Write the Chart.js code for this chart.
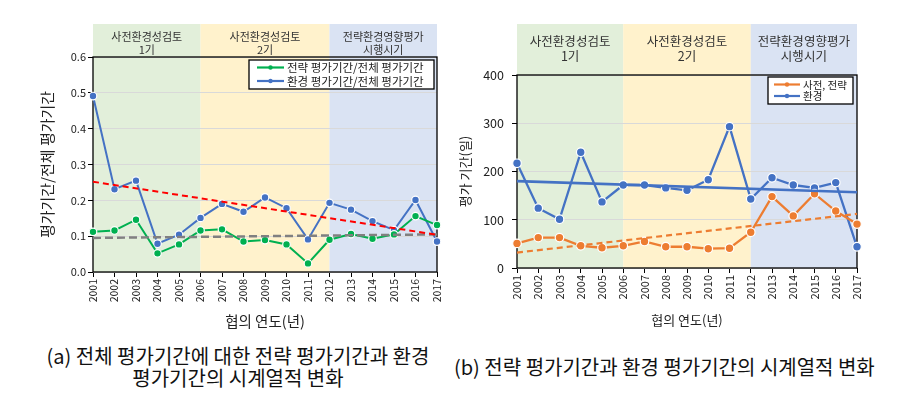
<!DOCTYPE html>
<html><head><meta charset="utf-8">
<script src="https://cdn.jsdelivr.net/npm/chart.js@4/dist/chart.umd.min.js"></script>
<style>
html,body{margin:0;padding:0;background:#fff;width:908px;height:406px;overflow:hidden;}
.wrap{position:absolute;top:0;width:454px;height:340px;}
#wrapA{left:0;}
#wrapB{left:454px;}
.cap{position:absolute;font-family:"Noto Sans CJK KR","Noto Sans",sans-serif;font-size:20px;color:#111;text-align:center;white-space:nowrap;line-height:22px;}
</style></head><body>
<div id="wrapA" class="wrap"><canvas id="cA" width="454" height="340"></canvas></div>
<div id="wrapB" class="wrap"><canvas id="cB" width="454" height="340"></canvas></div>
<div class="cap" style="left:0;width:476px;top:345px;">(a) 전체 평가기간에 대한 전략 평가기간과 환경<br>평가기간의 시계열적 변화</div>
<div class="cap" style="left:454px;width:414px;top:356px;">(b) 전략 평가기간과 환경 평가기간의 시계열적 변화</div>
<script>
// ---------- data ----------
const years = ['2001','2002','2003','2004','2005','2006','2007','2008','2009','2010','2011','2012','2013','2014','2015','2016','2017'];
// (a) ratio of evaluation period
const stratRatio = [0.112,0.116,0.146,0.052,0.077,0.116,0.119,0.085,0.089,0.077,0.024,0.090,0.106,0.093,0.105,0.156,0.131];
const envRatio   = [0.491,0.231,0.255,0.079,0.104,0.151,0.190,0.168,0.208,0.178,0.091,0.193,0.174,0.142,0.117,0.201,0.085];
const envRatioTrend   = [0.252, 0.104];   // values at 2001 and 2017
const stratRatioTrend = [0.095, 0.105];
// (b) evaluation period (days)
const stratDays = [51,63,63,46,42,46,55,44,44,40,41,74,148,108,154,118,91];
const envDays   = [217,124,101,240,137,172,172,166,161,183,293,143,187,172,166,177,44];
const envDaysTrend   = [180, 157];
const stratDaysTrend = [32, 112];
// labels
const seriesA = ['전략 평가기간/전체 평가기간','환경 평가기간/전체 평가기간'];
const seriesB = ['사전, 전략','환경'];
const bandNames = [['사전환경성검토','1기'],['사전환경성검토','2기'],['전략환경영향평가','시행시기']];
const bandRanges = [['2001','2006'],['2006','2012'],['2012','2017']];
const titleAY = '평가기간/전체 평가기간';
const titleBY = '평가 기간(일)';
const titleX = '협의 연도(년)';

const FONT = '"Noto Sans CJK KR","Noto Sans",sans-serif';
const bandColors = ['#e2efda','#fff2cc','#dae3f3'];
const C = {blue:'#4472c4', green:'#00b050', orange:'#ed7d31', red:'#ff0000', gray:'#808080'};

function endpoints(pair){ return years.map((_,i)=> i===0 ? pair[0] : (i===years.length-1 ? pair[1] : null)); }

const bandPlugin = {
  id:'bands',
  beforeDraw(chart, args, opts){
    const {ctx, chartArea:a, scales:{x}} = chart;
    ctx.save();
    bandRanges.forEach((r,i)=>{
      const x0 = x.getPixelForValue(years.indexOf(r[0]));
      const x1 = x.getPixelForValue(years.indexOf(r[1]));
      ctx.fillStyle = bandColors[i];
      ctx.fillRect(x0, opts.top, x1-x0, a.bottom-opts.top);
      ctx.fillStyle = '#333';
      ctx.font = opts.fontSize+'px '+FONT;
      ctx.textAlign='center'; ctx.textBaseline='middle';
      ctx.fillText(bandNames[i][0], (x0+x1)/2, opts.l1);
      ctx.fillText(bandNames[i][1], (x0+x1)/2, opts.l2);
    });
    ctx.restore();
  },
  beforeDatasetsDraw(chart){
    const {ctx, chartArea:a} = chart;
    ctx.save();
    ctx.strokeStyle='#000'; ctx.lineWidth=1.3;
    ctx.strokeRect(a.left, a.top, a.right-a.left, a.bottom-a.top);
    ctx.restore();
  },
  afterDatasetsDraw(chart, args, opts){
    const {ctx} = chart;
    const b = opts.box;
    ctx.save();
    ctx.fillStyle='#fff'; ctx.fillRect(b.x,b.y,b.w,b.h);
    ctx.strokeStyle='#000'; ctx.lineWidth=1.3; ctx.strokeRect(b.x,b.y,b.w,b.h);
    ctx.font = opts.legendFont+'px '+FONT;
    ctx.textBaseline='middle'; ctx.textAlign='left';
    opts.items.forEach((idx,k)=>{
      const ds = chart.data.datasets[idx];
      const y = b.y + opts.rows[k];
      ctx.strokeStyle = ds.borderColor; ctx.lineWidth = 2.2;
      ctx.beginPath(); ctx.moveTo(b.x+opts.sx, y); ctx.lineTo(b.x+opts.sx+opts.sw, y); ctx.stroke();
      ctx.fillStyle = ds.borderColor;
      ctx.beginPath(); ctx.arc(b.x+opts.sx+opts.sw/2, y, 2.2, 0, Math.PI*2); ctx.fill();
      ctx.fillStyle='#222';
      ctx.fillText(ds.label, b.x+opts.sx+opts.sw+3, y+0.5);
    });
    ctx.restore();
  }
};

function lineDs(label, data, color, r, w){
  return {label, data, borderColor:color, backgroundColor:color, borderWidth:w,
    pointRadius:r, pointHoverRadius:r, pointBorderColor:'#fff', pointBorderWidth:1.2,
    pointBackgroundColor:color, tension:0, order:2};
}
function trendDs(data, color, w, dash){
  return {label:'', data, borderColor:color, borderWidth:w, borderDash:dash, pointRadius:0,
    spanGaps:true, tension:0, order:1};
}

// ---------- chart (a) ----------
new Chart(document.getElementById('cA'), {
  type:'line',
  data:{labels:years, datasets:[
    lineDs(seriesA[0], stratRatio, C.green, 3.8, 2),
    lineDs(seriesA[1], envRatio, C.blue, 3.8, 2),
    trendDs(endpoints(envRatioTrend), C.red, 2, [6,4]),
    trendDs(endpoints(stratRatioTrend), C.gray, 2.5, [8,4])
  ]},
  options:{
    responsive:false, animation:false, events:[],
    layout:{padding:{left:38, top:57, right:17, bottom:10}},
    plugins:{legend:{display:false}, tooltip:{enabled:false},
      bands:{top:24, l1:37, l2:50, fontSize:11,
        box:{x:249, y:60, w:185, h:29}, items:[0,1], rows:[7.5,21], sx:8, sw:27, legendFont:11.5}},
    scales:{
      x:{offset:false, grid:{drawOnChartArea:false, tickLength:5, tickColor:'#000'}, border:{display:false},
        ticks:{minRotation:90, maxRotation:90, autoSkip:false, padding:2, color:'#222', font:{family:FONT, size:10.5}},
        title:{display:true, text:titleX, color:'#222', padding:0, font:{family:FONT, size:14.5}},
        afterFit(s){ s.height = 58; }},
      y:{min:0, max:0.6, grid:{color:'#d9d9d9', lineWidth:1, tickLength:5, tickColor:'#000'}, border:{display:false},
        ticks:{stepSize:0.1, padding:2, color:'#222', font:{family:FONT, size:11}, callback:v=>Number(v).toFixed(1)},
        title:{display:true, text:titleAY, color:'#222', padding:0, font:{family:FONT, size:15}},
        afterFit(s){ s.width = 55; }}
    }
  },
  plugins:[bandPlugin]
});

// ---------- chart (b) ----------
new Chart(document.getElementById('cB'), {
  type:'line',
  data:{labels:years, datasets:[
    lineDs(seriesB[0], stratDays, C.orange, 4.3, 2.3),
    lineDs(seriesB[1], envDays, C.blue, 4.3, 2.3),
    trendDs(endpoints(stratDaysTrend), C.orange, 2.2, [6,4]),
    trendDs(endpoints(envDaysTrend), C.blue, 2.6, [])
  ]},
  options:{
    responsive:false, animation:false, events:[],
    layout:{padding:{left:3, top:75, right:51, bottom:12}},
    plugins:{legend:{display:false}, tooltip:{enabled:false},
      bands:{top:24, l1:41, l2:56, fontSize:12.5,
        box:{x:314, y:77, w:85, h:27}, items:[0,1], rows:[7.5,19], sx:6, sw:26, legendFont:10.5}},
    scales:{
      x:{offset:false, grid:{drawOnChartArea:false, tickLength:5, tickColor:'#000'}, border:{display:false},
        ticks:{minRotation:90, maxRotation:90, autoSkip:false, padding:2, color:'#222', font:{family:FONT, size:11}},
        title:{display:true, text:titleX, color:'#222', padding:0, font:{family:FONT, size:13}},
        afterFit(s){ s.height = 60; }},
      y:{min:0, max:400, grid:{color:'#d9d9d9', lineWidth:1, tickLength:5, tickColor:'#000'}, border:{display:false},
        ticks:{stepSize:100, padding:8, color:'#222', font:{family:FONT, size:12.5}},
        title:{display:true, text:titleBY, color:'#222', padding:0, font:{family:FONT, size:13}},
        afterFit(s){ s.width = 60; }}
    }
  },
  plugins:[bandPlugin]
});
</script>
</body></html>
